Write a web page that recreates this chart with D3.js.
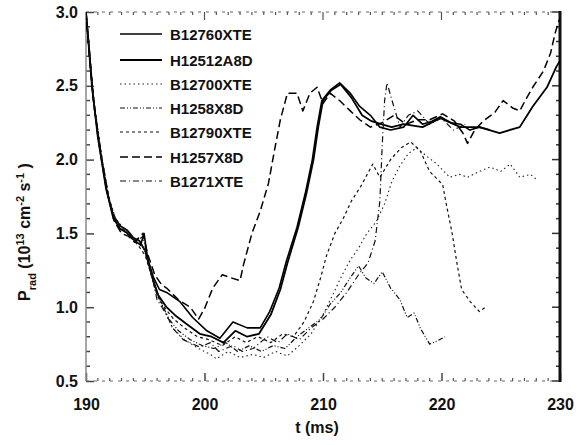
<!DOCTYPE html>
<html>
<head>
<meta charset="utf-8">
<script src="https://cdn.jsdelivr.net/npm/d3@7"></script>
<style>
  body { margin: 0; background: #fff; }
  svg { display: block; }
  text { font-family: "Liberation Sans", Arial, sans-serif; fill: #111; }
</style>
</head>
<body>
<svg id="chart" width="577" height="445"></svg>
<script>
// ---- data -------------------------------------------------------------
const xTickValues = [190, 200, 210, 220, 230];
const yTickValues = [0.5, 1.0, 1.5, 2.0, 2.5, 3.0];
const shotNames = ["B12760XTE", "H12512A8D", "B12700XTE", "H1258X8D", "B12790XTE", "H1257X8D", "B1271XTE"];

// each shot: [t (ms), value]
const shotB12760 = [[190,3.0],[190.3,2.72],[190.6,2.42],[191.2,2.06],[191.8,1.77],[192.3,1.6],[192.9,1.53],[193.5,1.5],[194.0,1.46],[194.6,1.42],[194.9,1.5],[195.2,1.33],[195.7,1.2],[196.2,1.12],[196.8,1.1],[197.9,1.04],[199.0,0.93],[200.2,0.84],[201.3,0.79],[202.4,0.9],[203.6,0.86],[204.7,0.86],[205.5,0.97],[206.3,1.13],[206.9,1.31],[207.8,1.54],[208.5,1.77],[209.1,2.0],[209.5,2.22],[209.9,2.4],[210.6,2.47],[211.4,2.52],[212.3,2.45],[213.1,2.36],[214.0,2.3],[214.8,2.22],[215.7,2.2],[216.8,2.22],[217.6,2.3],[218.4,2.24],[219.2,2.26],[219.9,2.29],[220.8,2.25],[221.6,2.24],[222.4,2.2],[223.2,2.22],[224.1,2.2]];
const shotH12512 = [[190,3.0],[190.2,2.8],[190.5,2.5],[191.0,2.15],[191.7,1.8],[192.3,1.62],[192.9,1.55],[193.5,1.52],[194.0,1.47],[194.5,1.45],[195.0,1.38],[195.6,1.2],[196.1,1.08],[196.8,1.0],[197.6,0.94],[198.6,0.88],[199.6,0.82],[200.6,0.8],[201.6,0.76],[202.6,0.84],[203.6,0.8],[204.6,0.82],[205.6,0.95],[206.4,1.12],[207.0,1.3],[207.9,1.54],[208.6,1.77],[209.2,2.0],[209.6,2.22],[210.0,2.4],[210.7,2.47],[211.5,2.51],[212.4,2.42],[213.3,2.3],[214.1,2.26],[214.9,2.24],[215.8,2.22],[216.8,2.24],[218.4,2.22],[219.9,2.28],[221.6,2.22],[223.2,2.22],[224.9,2.18],[226.6,2.22],[227.7,2.36],[228.9,2.49],[229.7,2.63],[230,2.67]];
const shotB12700 = [[190,3.0],[190.3,2.7],[190.7,2.38],[191.3,2.04],[191.9,1.75],[192.5,1.6],[193.1,1.54],[193.7,1.49],[194.3,1.45],[194.9,1.4],[195.4,1.25],[195.9,1.1],[196.6,0.98],[197.3,0.86],[198.3,0.78],[199.5,0.72],[200.5,0.68],[201.0,0.65],[202.0,0.7],[203.0,0.66],[204.1,0.68],[205.0,0.66],[206.0,0.7],[207.0,0.67],[208.0,0.74],[209.0,0.82],[210.0,0.95],[210.8,1.08],[211.5,1.2],[212.3,1.32],[213.0,1.4],[213.7,1.5],[214.5,1.58],[215.2,1.7],[215.8,1.85],[216.5,1.96],[217.2,2.04],[217.9,2.08],[218.8,2.02],[219.6,1.97],[220.7,1.88],[221.5,1.9],[222.2,1.88],[223.2,1.92],[224.1,1.95],[225.0,1.92],[225.8,1.97],[226.6,1.88],[227.5,1.9],[228.1,1.86]];
const shotH1258 = [[190,3.0],[190.3,2.74],[190.6,2.45],[191.1,2.1],[191.8,1.78],[192.4,1.6],[193.0,1.53],[193.6,1.5],[194.2,1.44],[194.8,1.48],[195.3,1.3],[195.8,1.15],[196.4,1.02],[197.0,0.92],[197.8,0.84],[198.8,0.78],[199.8,0.74],[200.8,0.72],[201.8,0.76],[202.8,0.7],[203.8,0.74],[204.8,0.7],[205.8,0.74],[206.8,0.72],[207.8,0.8],[208.8,0.86],[209.8,0.92],[210.6,1.02],[211.5,1.1],[212.3,1.2],[213.0,1.28],[213.6,1.2],[214.3,1.16],[215.0,1.24],[215.7,1.13],[216.5,1.05],[217.1,0.93],[217.7,0.96],[218.2,0.86],[219.0,0.75],[219.6,0.77],[220.3,0.8]];
const shotB12790 = [[190,3.0],[190.4,2.6],[190.8,2.3],[191.4,1.98],[192.0,1.72],[192.6,1.57],[193.2,1.52],[193.8,1.47],[194.4,1.42],[195.0,1.35],[195.5,1.22],[196.0,1.08],[196.6,1.0],[197.4,0.92],[198.3,0.86],[199.4,0.8],[200.4,0.78],[201.5,0.74],[202.6,0.8],[203.5,0.76],[204.5,0.8],[205.6,0.76],[206.6,0.82],[207.5,0.8],[208.4,0.9],[209.2,1.04],[209.8,1.2],[210.3,1.35],[211.0,1.5],[211.7,1.6],[212.4,1.72],[213.2,1.82],[214.2,1.97],[214.8,1.88],[215.7,2.0],[216.6,2.08],[217.4,2.12],[218.2,2.06],[219.0,1.92],[220.1,1.83],[220.4,1.7],[220.9,1.5],[221.3,1.3],[221.7,1.12],[222.4,1.04],[223.2,0.97],[223.7,1.0]];
const shotH1257 = [[190,3.0],[190.3,2.68],[190.7,2.35],[191.3,2.02],[191.9,1.74],[192.4,1.58],[193.0,1.5],[193.6,1.48],[194.1,1.44],[194.8,1.5],[195.2,1.36],[195.8,1.22],[196.4,1.15],[196.8,1.13],[197.8,1.05],[198.8,1.0],[199.5,0.92],[200.0,0.99],[200.7,1.13],[201.5,1.22],[202.2,1.2],[203.0,1.18],[203.3,1.29],[204.0,1.5],[204.7,1.65],[205.4,1.84],[205.9,2.06],[206.4,2.27],[207.0,2.45],[207.8,2.45],[208.3,2.33],[208.9,2.45],[209.5,2.49],[210.0,2.38],[210.6,2.45],[211.4,2.4],[212.3,2.33],[213.1,2.27],[214.0,2.22],[215.0,2.25],[216.0,2.3],[217.0,2.24],[218.0,2.27],[219.0,2.27],[220.1,2.31],[221.1,2.26],[221.8,2.18],[222.2,2.11],[222.8,2.2],[223.5,2.26],[224.5,2.32],[225.2,2.4],[226.0,2.35],[226.6,2.33],[227.2,2.42],[227.7,2.49],[228.6,2.6],[229.2,2.72],[229.6,2.86],[229.95,2.95]];
const shotB1271 = [[190,3.0],[190.2,2.8],[190.5,2.5],[191.0,2.15],[191.7,1.8],[192.3,1.62],[192.9,1.55],[193.5,1.52],[194.0,1.47],[194.5,1.45],[195.0,1.38],[195.6,1.2],[196.0,1.05],[196.8,0.95],[197.3,0.86],[198.2,0.78],[199.6,0.73],[200.5,0.76],[201.2,0.7],[202.4,0.74],[203.2,0.7],[204.1,0.72],[205.3,0.8],[206.2,0.76],[207.0,0.82],[208.0,0.78],[209.0,0.86],[210.0,0.92],[211.0,1.0],[212.0,1.1],[213.0,1.22],[213.8,1.3],[214.4,1.45],[214.8,1.72],[215.0,2.1],[215.2,2.4],[215.4,2.52],[215.9,2.38],[216.5,2.22],[217.2,2.3],[218.0,2.33],[219.0,2.24],[220.0,2.28],[221.0,2.2],[222.0,2.24]];

const shots = [shotB12760, shotH12512, shotB12700, shotH1258, shotB12790, shotH1257, shotB1271];

// ---- line styles (one per shot) -----------------------------------------
const lineStyles = [
  { width: 1.6, dash: null,          color: "#000" },
  { width: 1.8, dash: null,          color: "#000" },
  { width: 1.1, dash: "1.5,3",       color: "#222" },
  { width: 1.2, dash: "5,2,1,2,1,2", color: "#111" },
  { width: 1.2, dash: "3,3",         color: "#111" },
  { width: 1.5, dash: "8,4",         color: "#000" },
  { width: 1.2, dash: "6,3,1,3",     color: "#111" }
];

// ---- layout -------------------------------------------------------------
const svg = d3.select("#chart");
const plot = { left: 86, right: 560, top: 12, bottom: 381 };

const x = d3.scaleLinear().domain([190, 230]).range([plot.left, plot.right]);
const y = d3.scaleLinear().domain([0.5, 3.0]).range([plot.bottom, plot.top]);

svg.append("rect").attr("width", 577).attr("height", 445).attr("fill", "#fff");

svg.append("clipPath").attr("id", "plotClip")
  .append("rect")
  .attr("x", plot.left).attr("y", plot.top - 2)
  .attr("width", plot.right - plot.left).attr("height", plot.bottom - plot.top + 2);

// ---- axes ---------------------------------------------------------------
const minorY = d3.range(0.6, 3.0, 0.1).filter(v => Math.abs(v * 2 - Math.round(v * 2)) > 1e-6);
const minorX = d3.range(191, 230, 1).filter(v => v % 10 !== 0);

// left axis, ticks pointing inward
const yAxis = d3.axisLeft(y).tickValues(yTickValues).tickFormat(d3.format(".1f"))
  .tickSizeInner(-8).tickSizeOuter(0).tickPadding(6);
const gy = svg.append("g").attr("transform", `translate(${plot.left},0)`).call(yAxis);
gy.select(".domain").remove();
gy.selectAll("line").attr("stroke", "#444").attr("stroke-width", 1.5);
gy.selectAll("text").attr("font-size", 16).attr("font-weight", "bold").attr("dx", "-2");

svg.append("g").selectAll("line").data(minorY).join("line")
  .attr("x1", plot.left).attr("x2", plot.left + 4)
  .attr("y1", d => y(d)).attr("y2", d => y(d))
  .attr("stroke", "#444").attr("stroke-width", 1.5);

// right axis ticks
svg.append("g").selectAll("line").data(yTickValues.concat(minorY)).join("line")
  .attr("x1", plot.right).attr("x2", d => plot.right - (yTickValues.includes(d) ? 8 : 4))
  .attr("y1", d => y(d)).attr("y2", d => y(d))
  .attr("stroke", "#333").attr("stroke-width", 1.5);

// bottom axis
const xAxis = d3.axisBottom(x).tickValues(xTickValues).tickFormat(d3.format("d"))
  .tickSizeInner(-8).tickSizeOuter(0).tickPadding(18);
const gx = svg.append("g").attr("transform", `translate(0,${plot.bottom})`).call(xAxis);
gx.select(".domain").remove();
gx.selectAll("line").attr("stroke", "#444").attr("stroke-width", 1.5);
gx.selectAll("text").attr("font-size", 16).attr("font-weight", "bold");

svg.append("g").selectAll("line").data(minorX).join("line")
  .attr("x1", d => x(d)).attr("x2", d => x(d))
  .attr("y1", plot.bottom).attr("y2", plot.bottom - 3)
  .attr("stroke", "#555").attr("stroke-width", 1.2);
svg.append("g").selectAll("line").data(minorX.concat(xTickValues)).join("line")
  .attr("x1", d => x(d)).attr("x2", d => x(d))
  .attr("y1", plot.top).attr("y2", d => plot.top + (xTickValues.includes(d) ? 8 : 3))
  .attr("stroke", "#555").attr("stroke-width", 1.2);

// frame: light dotted top/bottom, grey left, heavy right
svg.append("line").attr("x1", plot.left).attr("x2", plot.right)
  .attr("y1", plot.top).attr("y2", plot.top)
  .attr("stroke", "#666").attr("stroke-width", 1.2).attr("stroke-dasharray", "3,5");
svg.append("line").attr("x1", plot.left).attr("x2", plot.right)
  .attr("y1", plot.bottom).attr("y2", plot.bottom)
  .attr("stroke", "#666").attr("stroke-width", 1.2).attr("stroke-dasharray", "3,5");
svg.append("line").attr("x1", plot.left).attr("x2", plot.left)
  .attr("y1", plot.top).attr("y2", plot.bottom)
  .attr("stroke", "#888").attr("stroke-width", 1.5);
svg.append("line").attr("x1", plot.right).attr("x2", plot.right)
  .attr("y1", plot.top - 1).attr("y2", plot.bottom + 1)
  .attr("stroke", "#111").attr("stroke-width", 3);

// axis titles
svg.append("text")
  .attr("x", 317).attr("y", 433)
  .attr("text-anchor", "middle").attr("font-size", 16).attr("font-weight", "bold")
  .text("t (ms)");

const yTitle = svg.append("text")
  .attr("transform", "translate(30,232) rotate(-90)")
  .attr("text-anchor", "middle").attr("font-size", 16).attr("font-weight", "bold");
yTitle.append("tspan").text("P");
yTitle.append("tspan").attr("baseline-shift", "sub").attr("font-size", 11).text("rad");
yTitle.append("tspan").text(" (10");
yTitle.append("tspan").attr("baseline-shift", "super").attr("font-size", 11).text("13");
yTitle.append("tspan").text(" cm");
yTitle.append("tspan").attr("baseline-shift", "super").attr("font-size", 11).text("-2");
yTitle.append("tspan").text(" s");
yTitle.append("tspan").attr("baseline-shift", "super").attr("font-size", 11).text("-1");
yTitle.append("tspan").text(" )");

// ---- lines --------------------------------------------------------------
const line = d3.line().x(d => x(d[0])).y(d => y(d[1]));
const gLines = svg.append("g").attr("clip-path", "url(#plotClip)");
shots.forEach((s, i) => {
  const st = lineStyles[i];
  gLines.append("path")
    .datum(s)
    .attr("d", line)
    .attr("fill", "none")
    .attr("stroke", st.color)
    .attr("stroke-width", st.width)
    .attr("stroke-dasharray", st.dash)
    .attr("stroke-linejoin", "round");
});

// ---- legend -------------------------------------------------------------
const legendRows = [34, 60, 84, 108, 132, 157, 181];
const legend = svg.append("g");
shotNames.forEach((name, i) => {
  const st = lineStyles[i];
  legend.append("line")
    .attr("x1", 120).attr("x2", 162)
    .attr("y1", legendRows[i]).attr("y2", legendRows[i])
    .attr("stroke", st.color).attr("stroke-width", st.width)
    .attr("stroke-dasharray", st.dash);
  legend.append("text")
    .attr("x", 170).attr("y", legendRows[i] + 6)
    .attr("font-size", 15).attr("font-weight", "bold")
    .text(name);
});
</script>
</body>
</html>
